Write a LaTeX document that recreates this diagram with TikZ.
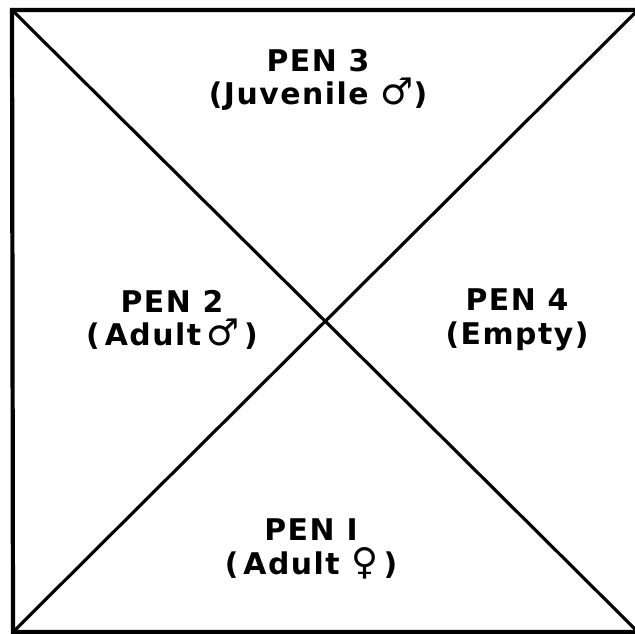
\documentclass[tikz,border=0pt]{standalone}
\usepackage{fontspec}
\setmainfont{DejaVu Sans}[LetterSpace=5]
\usetikzlibrary{positioning}

\newcommand{\sexsym}[1]{{\fontsize{21}{18.5}\selectfont #1}}

\tikzset{
  pen/.style={align=center, inner sep=0pt, font=\fontsize{17}{19}\selectfont\bfseries},
  wall/.style={line width=2.4pt},
  divider/.style={line width=1.8pt}
}

\begin{document}
\begin{tikzpicture}[x=0.02cm,y=-0.02cm,line cap=round]
  \useasboundingbox (0,0) rectangle (635,634);
  % corners of the enclosure
  \coordinate (tl) at (12,10);
  \coordinate (tr) at (638,10);
  \coordinate (br) at (638,632);
  \coordinate (bl) at (13,632);
  \draw[wall,line join=miter] (tl) -- (tr) -- (br) -- (bl) -- cycle;
  \draw[divider] (tl) -- (br);
  \draw[divider] (bl) -- (tr);
  % labels
  \node[pen] (pen3) at (318,80) {PEN 3\\(Juvenile \sexsym{♂})};
  \node[pen] (pen2) at (172,320) {PEN 2\\(\,Adult\,\sexsym{♂}\,)};
  \node[pen] (pen4) at (517,320) {PEN 4\\(Empty)};
  \node[pen] (pen1) at (311,549) {PEN I\\(\,Adult \sexsym{♀}\,)};
\end{tikzpicture}
\end{document}
